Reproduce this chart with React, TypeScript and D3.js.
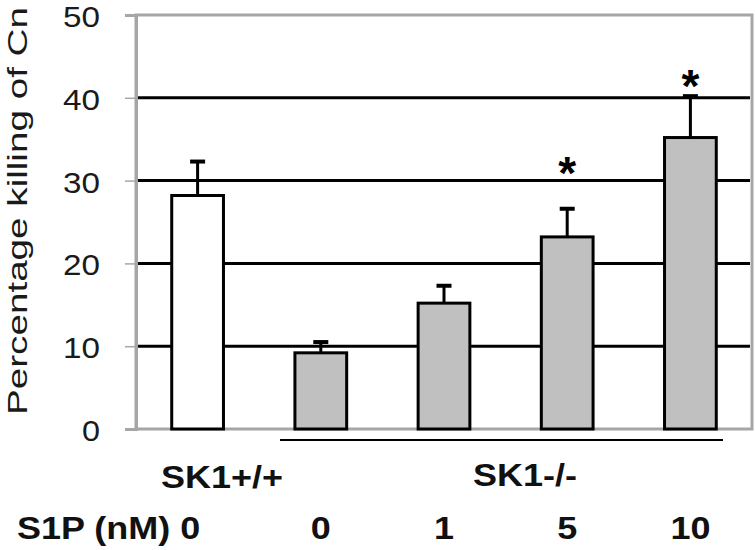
import React, { useEffect, useRef } from 'react';
import * as d3 from 'd3';

const groups = ['SK1+/+', 'SK1-/-'];
const doses = ['0', '0', '1', '5', '10'];
const values = [28.2, 9.2, 15.2, 23.2, 35.2];
const errors = [4.1, 1.3, 2.1, 3.4, 5.0];
// livello (in unità dell'asse Y) del centro dell'asterisco, null = non significativo
const starLevels: (number | null)[] = [null, null, null, 32.2, 42.8];
const yTicks = [0, 10, 20, 30, 40, 50];

const App = () => {
    const ref = useRef<SVGSVGElement>(null);

    useEffect(() => {
        const width = 755;
        const height = 550;
        const margin = { top: 15, right: 3, bottom: 121, left: 136 };

        const svg = d3.select(ref.current);
        svg.selectAll('*').remove();

        const x = d3
            .scaleBand()
            .domain(values.map((_, i) => String(i)))
            .range([margin.left, width - margin.right])
            .paddingInner(0.58)
            .paddingOuter(0.29);

        const y = d3
            .scaleLinear()
            .domain([0, 50])
            .range([height - margin.bottom, margin.top]);

        const cx = (i: number) => x(String(i))! + x.bandwidth() / 2;

        // cadre gris
        svg.append('rect')
            .attr('x', margin.left)
            .attr('y', y(50))
            .attr('width', width - margin.right - margin.left)
            .attr('height', y(0) - y(50))
            .attr('fill', 'white')
            .attr('stroke', '#a6a6a6')
            .attr('stroke-width', 3);

        // griglia
        svg.append('g')
            .selectAll('line')
            .data(yTicks.filter((t) => t > 0 && t < 50))
            .join('line')
            .attr('x1', margin.left + 2)
            .attr('x2', width - margin.right - 2)
            .attr('y1', (d) => y(d))
            .attr('y2', (d) => y(d))
            .attr('stroke', 'black')
            .attr('stroke-width', 3);

        // asse Y
        const axis = svg.append('g')
            .attr('transform', `translate(${margin.left},0)`)
            .call(d3.axisLeft(y).tickValues(yTicks).tickSize(11).tickPadding(25));
        axis.select('.domain').attr('stroke', '#a6a6a6').attr('stroke-width', 3);
        axis.selectAll('.tick line').attr('stroke', '#a6a6a6').attr('stroke-width', 1.5);
        axis.selectAll('.tick text')
            .attr('font-family', 'Liberation Sans, Arial, sans-serif')
            .attr('font-size', 30)
            .attr('dy', '0.38em')
            .attr('fill', '#1a1a1a')
            .attr('textLength', (d: any) => (String(d).length > 1 ? 37 : 18))
            .attr('lengthAdjust', 'spacingAndGlyphs');

        // barre
        svg.append('g')
            .selectAll('rect')
            .data(values)
            .join('rect')
            .attr('x', (_, i) => x(String(i))!)
            .attr('y', (d) => y(d))
            .attr('width', x.bandwidth())
            .attr('height', (d) => y(0) - y(d))
            .attr('fill', (_, i) => (i === 0 ? 'white' : '#c0c0c0'))
            .attr('stroke', 'black')
            .attr('stroke-width', 3);

        // barre di errore
        const eb = svg.append('g');
        values.forEach((v, i) => {
            const c = cx(i);
            eb.append('line')
                .attr('x1', c).attr('x2', c)
                .attr('y1', y(v)).attr('y2', y(v + errors[i]))
                .attr('stroke', 'black').attr('stroke-width', 3);
            eb.append('line')
                .attr('x1', c - 7.5).attr('x2', c + 7.5)
                .attr('y1', y(v + errors[i])).attr('y2', y(v + errors[i]))
                .attr('stroke', 'black').attr('stroke-width', 4);
            const s = starLevels[i];
            if (s !== null) {
                eb.append('text')
                    .attr('x', c)
                    .attr('y', y(s) + 27)
                    .attr('text-anchor', 'middle')
                    .attr('font-family', 'Liberation Sans, Arial, sans-serif')
                    .attr('font-weight', 'bold')
                    .attr('font-size', 46)
                    .text('*');
            }
        });

        // linea sotto SK1-/-
        svg.append('line')
            .attr('x1', 280).attr('x2', 723)
            .attr('y1', 440).attr('y2', 440)
            .attr('stroke', 'black').attr('stroke-width', 2);

        const font = 'Liberation Sans, Arial, sans-serif';
        const label = (txt: string, x0: number, y0: number, anchor: string) =>
            svg.append('text')
                .attr('transform', `translate(${x0},${y0}) scale(1.2,1.03)`)
                .attr('text-anchor', anchor)
                .attr('font-family', font)
                .attr('font-weight', 'bold')
                .attr('font-size', 30)
                .attr('fill', '#111')
                .text(txt);

        // etichette gruppi
        label(groups[0], 222, 488, 'middle');
        label(groups[1], 525, 486, 'middle');

        // dosi S1P
        label('S1P (nM) ' + doses[0], 17, 539, 'start');
        doses.slice(1).forEach((d, i) => label(d, cx(i + 1), 539, 'middle'));

        // titolo asse Y
        svg.append('text')
            .attr('transform', `translate(27,${(y(0) + y(50)) / 2 - 11}) rotate(-90)`)
            .attr('text-anchor', 'middle')
            .attr('font-family', font)
            .attr('font-size', 28)
            .attr('fill', '#1a1a1a')
            .attr('textLength', 408)
            .attr('lengthAdjust', 'spacingAndGlyphs')
            .text('Percentage killing of Cn');
    }, []);

    return <svg ref={ref} width={755} height={550} style={{ position: 'absolute', left: 0, top: 0 }} />;
};

export default App;
